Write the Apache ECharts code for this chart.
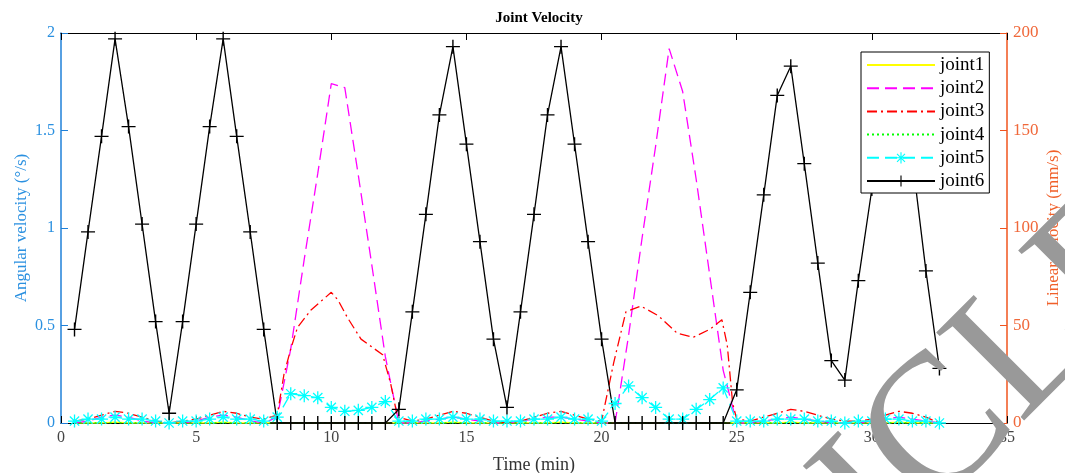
<!DOCTYPE html>
<html>
<head>
<meta charset="utf-8">
<script src="https://cdn.jsdelivr.net/npm/echarts@6/dist/echarts.min.js"></script>
<style>html,body{margin:0;padding:0;background:#fff;overflow:hidden}#c{width:1065px;height:473px}</style>
</head>
<body>
<div id="c"></div>
<script>
// ---- data ----
var seriesNames = ['joint1', 'joint2', 'joint3', 'joint4', 'joint5', 'joint6'];
var xTicks = [0, 5, 10, 15, 20, 25, 30, 35];

// common time grid (min), 0.5 min step
var time = [0.5,1,1.5,2,2.5,3,3.5,4,4.5,5,5.5,6,6.5,7,7.5,8,8.5,9,9.5,10,10.5,11,11.5,12,12.5,13,13.5,14,14.5,15,15.5,16,16.5,17,17.5,18,18.5,19,19.5,20,20.5,21,21.5,22,22.5,23,23.5,24,24.5,25,25.5,26,26.5,27,27.5,28,28.5,29,29.5,30,30.5,31,31.5,32,32.5];

var joint1 = [0,0,0,0.005,0,0,0,0,0,0,0,0.005,0,0,0,0,0,0,0,0,0,0,0,0,0,0,0,0,0.005,0,0,0,0,0,0,0,0.005,0,0,0,0,0,0,0,0,0,0,0,0,0,0,0,0,0.005,0,0,0,0,0,0,0,0.005,0,0,0];

var joint2 = [0,0.01,0.03,0.04,0.03,0.01,0,0,0,0.01,0.03,0.04,0.03,0.01,0,0.03,0.38,0.84,1.28,1.74,1.72,1.27,0.81,0.34,0,0,0.01,0.02,0.03,0.02,0.01,0,0,0.01,0.02,0.03,0.03,0.02,0.01,0,0,0.45,0.95,1.42,1.92,1.7,1.25,0.76,0.27,0,0,0.01,0.02,0.03,0.02,0.01,0,0,0,0.01,0.02,0.03,0.02,0.01,0];

var joint3Time = [0.5,1,1.5,2,2.5,3,3.5,4,4.5,5,5.5,6,6.5,7,7.5,8,8.25,8.5,8.75,9.25,9.75,10,10.25,10.6,11.1,11.5,11.9,12.2,12.45,13,13.5,14,14.5,15,15.5,16,16.5,17,17.5,18,18.5,19,19.5,20,20.45,20.9,21.45,22.1,22.8,23.4,24,24.45,24.65,24.85,25,25.5,26,26.5,27,27.5,28,28.5,29,29.5,30,30.5,31,31.5,32,32.5];
var joint3 = [0.01,0.02,0.04,0.06,0.05,0.03,0.01,0,0.01,0.02,0.04,0.06,0.05,0.03,0.02,0.04,0.25,0.38,0.49,0.58,0.64,0.67,0.63,0.54,0.43,0.39,0.35,0.2,0.03,0.01,0.02,0.04,0.06,0.05,0.03,0.01,0,0.01,0.03,0.05,0.06,0.04,0.02,0.01,0.31,0.57,0.6,0.55,0.46,0.44,0.48,0.53,0.4,0.1,0.02,0.01,0.03,0.05,0.07,0.06,0.04,0.02,0.01,0.01,0.02,0.04,0.06,0.05,0.03,0];

var joint4 = [0,0,0,0,0,0,0,0,0,0,0,0,0,0,0,0,0,0,0,0,0,0,0,0,0,0,0,0,0,0,0,0,0,0,0,0,0,0,0,0,0,0,0,0,0,0,0,0,0,0,0,0,0,0,0,0,0,0,0,0,0,0,0,0,0];

var joint5 = [0.01,0.02,0.02,0.03,0.02,0.02,0.01,0,0.01,0.01,0.02,0.03,0.02,0.02,0.01,0.03,0.15,0.14,0.13,0.08,0.06,0.065,0.08,0.11,0.01,0.01,0.02,0.02,0.03,0.02,0.02,0.01,0.01,0.01,0.02,0.02,0.03,0.02,0.02,0.01,0.1,0.19,0.13,0.08,0.02,0.02,0.07,0.12,0.18,0.01,0.01,0.01,0.02,0.02,0.02,0.01,0.01,0,0.01,0.01,0.02,0.02,0.01,0.01,0];

var joint6 = [0.48,0.98,1.47,1.97,1.52,1.02,0.52,0.05,0.52,1.02,1.52,1.97,1.47,0.98,0.48,0,0,0,0,0,0,0,0,0,0.07,0.57,1.07,1.58,1.93,1.43,0.93,0.43,0.08,0.57,1.07,1.58,1.93,1.43,0.93,0.43,0,0,0,0,0,0,0,0,0,0.17,0.67,1.17,1.68,1.83,1.33,0.82,0.32,0.22,0.73,1.2,1.7,1.85,1.35,0.78,0.28];

// ---- helpers ----
function pairs(xs, ys) { return xs.map(function (x, i) { return [x, ys[i]]; }); }

var serif = 'Liberation Serif';
var plusPath = 'path://M0 9 L20 9 L20 11 L0 11 Z M9 0 L11 0 L11 20 L9 20 Z';
var starPath = 'path://M0 9 L20 9 L20 11 L0 11 Z M9 0 L11 0 L11 20 L9 20 Z M2.2 3.6 L3.6 2.2 L17.8 16.4 L16.4 17.8 Z M16.4 2.2 L17.8 3.6 L3.6 17.8 L2.2 16.4 Z';
var hidden = 'rgba(0,0,0,0)';

var chart = echarts.init(document.getElementById('c'), null, { renderer: 'canvas' });

var option = {
  animation: false,
  backgroundColor: '#fff',
  title: {
    text: 'Joint Velocity',
    left: 534, top: 6, textAlign: 'center',
    textStyle: { fontFamily: serif, fontWeight: 'bold', fontSize: 15, color: '#000' }
  },
  legend: {
    orient: 'vertical',
    left: 861, top: 52,
    padding: [3.5, 5, 2.5, 5],
    itemWidth: 68, itemHeight: 14, itemGap: 4.2,
    backgroundColor: '#fff',
    borderColor: '#000', borderWidth: 1,
    selectedMode: false,
    textStyle: { fontFamily: serif, fontSize: 19, color: '#000' },
    data: [
      { name: 'joint1', itemStyle: { color: hidden } },
      { name: 'joint2', itemStyle: { color: hidden } },
      { name: 'joint3', itemStyle: { color: hidden } },
      { name: 'joint4', itemStyle: { color: hidden } },
      { name: 'joint5' },
      { name: 'joint6' }
    ]
  },
  grid: { left: 61, right: 58, top: 33, bottom: 50, containLabel: false, outerBoundsMode: 'none' },
  xAxis: [{
    type: 'value', min: 0, max: 35, interval: 5, position: 'bottom',
    name: 'Time (min)', nameLocation: 'middle', nameGap: 33, nameMoveOverlap: false,
    nameTextStyle: { fontFamily: serif, fontSize: 18, color: '#333' },
    axisLine: { onZero: false, lineStyle: { color: '#000', width: 1 } },
    axisTick: { inside: true, length: 7, lineStyle: { color: '#000' } },
    axisLabel: { fontFamily: serif, fontSize: 16, color: '#444', margin: 7,
      formatter: function (v) { return xTicks.indexOf(v) >= 0 ? String(v) : ''; } },
    splitLine: { show: false }
  }, {
    type: 'value', min: 0, max: 35, interval: 5, position: 'top',
    axisLine: { onZero: false, lineStyle: { color: '#000', width: 1 } },
    axisTick: { inside: true, length: 7, lineStyle: { color: '#000' } },
    axisLabel: { show: false },
    splitLine: { show: false }
  }],
  yAxis: [{
    type: 'value', min: 0, max: 2, interval: 0.5, position: 'left',
    name: 'Angular velocity (°/s)', nameLocation: 'middle', nameGap: 31, nameRotate: 90, nameMoveOverlap: false,
    nameTextStyle: { fontFamily: serif, fontSize: 17, color: '#2a90e0', verticalAlign: 'bottom' },
    axisLine: { show: true, onZero: false, lineStyle: { color: '#1f80d8', width: 1.5 } },
    axisTick: { show: true, inside: true, length: 7, lineStyle: { color: '#1f80d8' } },
    axisLabel: { fontFamily: serif, fontSize: 16, color: '#2a90e0', margin: 6 },
    splitLine: { show: false }
  }, {
    type: 'value', min: 0, max: 200, interval: 50, position: 'right',
    name: 'Linear velocity (mm/s)', nameLocation: 'middle', nameGap: 38, nameRotate: 90, nameMoveOverlap: false,
    nameTextStyle: { fontFamily: serif, fontSize: 17, color: '#f0602a' },
    axisLine: { show: true, onZero: false, lineStyle: { color: '#f0541e', width: 1.5 } },
    axisTick: { show: true, inside: true, length: 7, lineStyle: { color: '#f0541e' } },
    axisLabel: { fontFamily: serif, fontSize: 17, color: '#f0683a', margin: 6 },
    splitLine: { show: false }
  }],
  series: [
    { name: 'joint1', type: 'line', data: pairs(time, joint1), showSymbol: false, symbol: 'none',
      lineStyle: { color: '#ffff00', width: 1.3, type: 'solid' }, itemStyle: { color: '#ffff00' } },
    { name: 'joint2', type: 'line', data: pairs(time, joint2), showSymbol: false, symbol: 'none',
      lineStyle: { color: '#ff00ff', width: 1.3, type: [12, 6] }, itemStyle: { color: '#ff00ff' } },
    { name: 'joint3', type: 'line', data: pairs(joint3Time, joint3), showSymbol: false, symbol: 'none',
      lineStyle: { color: '#ff0000', width: 1.3, type: [10, 4, 2, 4] }, itemStyle: { color: '#ff0000' } },
    { name: 'joint4', type: 'line', data: pairs(time, joint4), showSymbol: false, symbol: 'none',
      lineStyle: { color: '#00ff00', width: 1.3, type: [2, 3] }, itemStyle: { color: '#00ff00' } },
    { name: 'joint5', type: 'line', data: pairs(time, joint5), symbol: starPath, symbolSize: 13,
      lineStyle: { color: '#00ffff', width: 1.3, type: [12, 6] }, itemStyle: { color: '#00ffff' } },
    { name: 'joint6', type: 'line', data: pairs(time, joint6), symbol: plusPath, symbolSize: 14,
      lineStyle: { color: '#000', width: 1.3, type: 'solid' }, itemStyle: { color: '#000' } }
  ],
  graphic: [{
    type: 'text', z: 100, silent: true,
    x: 590, y: 784, rotation: Math.PI / 4,
    style: { text: 'ARTICLE', fontFamily: serif, fontSize: 190, fill: '#999999',
      align: 'left', verticalAlign: 'middle' }
  }]
};
chart.setOption(option);
</script>
</body>
</html>
